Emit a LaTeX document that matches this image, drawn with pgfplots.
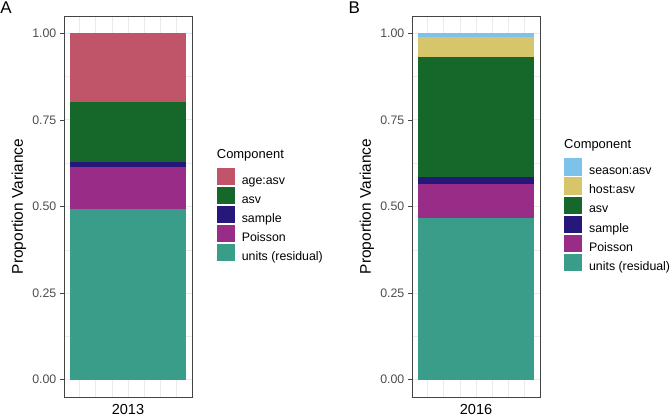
\documentclass[border=0pt]{standalone}
\usepackage{fontspec}
\setmainfont{Liberation Sans}
\usepackage{pgfplots}
\pgfplotsset{compat=1.18}
\definecolor{cAge}{HTML}{C05468}
\definecolor{cAsv}{HTML}{16672A}
\definecolor{cSample}{HTML}{26187A}
\definecolor{cPoisson}{HTML}{992C86}
\definecolor{cUnits}{HTML}{3A9D89}
\definecolor{cSeason}{HTML}{7CC2EA}
\definecolor{cHost}{HTML}{D7C56B}
\definecolor{gborder}{HTML}{444444}
\definecolor{gtick}{HTML}{4D4D4D}
\definecolor{ggrid}{HTML}{EBEBEB}
\pgfplotsset{
  sq/.style={fill=#1, draw=none,
    legend image code/.code={\fill[fill=#1] (0bp,-4.8bp) rectangle (18.4bp,12.6bp);}},
  panel/.style={
    scale only axis, width=128bp, height=381bp, clip=false,
    xmin=2012.505, xmax=2013.495, ymin=-0.05, ymax=1.05,
    ybar stacked, bar width=0.9, bar shift=0pt,
    xtick={2012.75,2013,2013.25},
    minor xtick={2012.625,2012.875,2013.125,2013.375},
    xticklabels={},
    ytick={0,0.25,0.5,0.75,1},
    yticklabels={0.00,0.25,0.50,0.75,1.00},
    minor ytick={0.125,0.375,0.625,0.875},
    grid=both,
    grid style={draw=ggrid, line width=1bp},
    minor grid style={draw=ggrid, line width=0.55bp},
    axis line style={draw=gborder, line width=0.75bp},
    tick align=outside, ytick pos=left, xtick pos=bottom,
    major tick length=4bp, minor tick length=0pt,
    xtick style={draw=none},
    ytick style={draw=gborder, line width=0.75bp},
    yticklabel style={font=\fontsize{12.4}{14}\selectfont, text=gtick, inner sep=0pt, xshift=-3.5bp},
    ylabel style={font=\fontsize{15.5}{18}\selectfont, at={(axis description cs:-0.3516,0.5)}, anchor=center, inner sep=0pt},
    xlabel style={font=\fontsize{14.6}{17}\selectfont, at={(axis description cs:0.5,-0.0459)}, anchor=base, inner sep=0pt},
    legend style={draw=none, fill=none, inner sep=0pt, outer sep=0pt, anchor=north west,
      font=\fontsize{12.4}{14}\selectfont, row sep=-2.8bp,
      nodes={inner sep=0pt, text height=13.1bp, text depth=5.5bp},
      /tikz/every odd column/.append style={column sep=6.7bp}},
    legend cell align=left, reverse legend,
  }
}
\begin{document}
\begin{tikzpicture}
\useasboundingbox (0,0) rectangle (672bp,417bp);
\node[anchor=base west, font=\fontsize{17}{20}\selectfont, inner sep=0pt] at (0.3bp,403bp) {A};
\node[anchor=base west, font=\fontsize{17}{20}\selectfont, inner sep=0pt] at (348.5bp,403bp) {B};
\begin{axis}[panel, at={(64bp,20bp)}, anchor=south west,
  xlabel={2013}, ylabel={Proportion Variance},
  legend style={at={(axis description cs:1.193,0.602)}}]
\addplot[sq=cUnits] coordinates {(2013,0.493)};
\addplot[sq=cPoisson] coordinates {(2013,0.120)};
\addplot[sq=cSample] coordinates {(2013,0.015)};
\addplot[sq=cAsv] coordinates {(2013,0.174)};
\addplot[sq=cAge] coordinates {(2013,0.198)};
\legend{units (residual),Poisson,sample,asv,age:asv}
\node[anchor=base west, font=\fontsize{13}{15}\selectfont, inner sep=0pt] at (axis description cs:1.193,0.6265) {Component};
\end{axis}
\begin{axis}[panel, at={(412bp,20bp)}, anchor=south west,
  xmin=2015.505, xmax=2016.495,
  xtick={2015.75,2016,2016.25},
  minor xtick={2015.625,2015.875,2016.125,2016.375},
  xlabel={2016}, ylabel={Proportion Variance},
  legend style={at={(axis description cs:1.1875,0.6265)}}]
\addplot[sq=cUnits] coordinates {(2016,0.466)};
\addplot[sq=cPoisson] coordinates {(2016,0.100)};
\addplot[sq=cSample] coordinates {(2016,0.020)};
\addplot[sq=cAsv] coordinates {(2016,0.347)};
\addplot[sq=cHost] coordinates {(2016,0.056)};
\addplot[sq=cSeason] coordinates {(2016,0.011)};
\legend{units (residual),Poisson,sample,asv,host:asv,season:asv}
\node[anchor=base west, font=\fontsize{13}{15}\selectfont, inner sep=0pt] at (axis description cs:1.1875,0.6528) {Component};
\end{axis}
\end{tikzpicture}
\end{document}
